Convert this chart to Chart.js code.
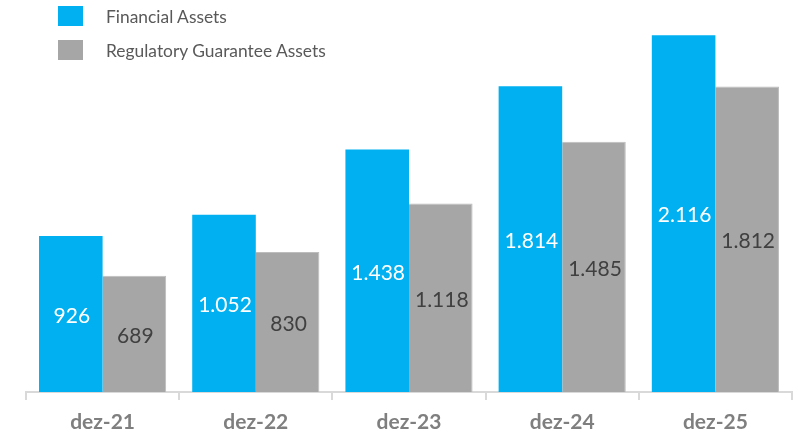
<!DOCTYPE html>
<html>
<head>
<meta charset="utf-8">
<script src="https://cdn.jsdelivr.net/npm/chart.js@4.4.1/dist/chart.umd.min.js"></script>
<style>
    html, body { margin: 0; padding: 0; background: #fff; }
    #wrap { position: relative; width: 806px; height: 439px; }
    #legend { position: absolute; left: 58px; top: 6px; font-family: Lato, "Open Sans", sans-serif; font-size: 17.4px; color: #595959; }
    .item { display: flex; align-items: center; height: 20px; margin-bottom: 14px; }
    .box { width: 25px; height: 20px; margin-right: 23px; }
</style>
</head>
<body>
<div id="wrap">
    <canvas id="chart" width="806" height="439"></canvas>
    <div id="legend"></div>
</div>
<script>
const categories = ['dez-21', 'dez-22', 'dez-23', 'dez-24', 'dez-25'];
const financialAssets = [926, 1052, 1438, 1814, 2116];
const regulatoryAssets = [689, 830, 1118, 1485, 1812];
const seriesNames = ['Financial Assets', 'Regulatory Guarantee Assets'];

function formatNumber(v) {
    return String(v).replace(/\B(?=(\d{3})+(?!\d))/g, '.');
}

// labels in the middle of each bar
const barLabels = {
    id: 'barLabels',
    afterDatasetsDraw(chart) {
        const ctx = chart.ctx;
        ctx.save();
        ctx.font = '21px Lato, "Open Sans", sans-serif';
        ctx.textAlign = 'center';
        ctx.textBaseline = 'middle';
        chart.data.datasets.forEach((ds, i) => {
            const meta = chart.getDatasetMeta(i);
            ctx.fillStyle = ds.labelColor;
            meta.data.forEach((bar, j) => {
                const y = (bar.y + bar.base) / 2;
                ctx.fillText(formatNumber(ds.data[j]), bar.x + 1, y + 2);
            });
        });
        ctx.restore();
    }
};

const chart = new Chart(document.getElementById('chart'), {
    type: 'bar',
    data: {
        labels: categories,
        datasets: [
            {
                label: seriesNames[0],
                data: financialAssets,
                backgroundColor: '#00B0F0',
                labelColor: '#ffffff',
                categoryPercentage: 0.83,
                barPercentage: 1
            },
            {
                label: seriesNames[1],
                data: regulatoryAssets,
                backgroundColor: '#A6A6A6',
                borderColor: '#BDBDBD',
                borderWidth: { top: 1, right: 1, left: 0, bottom: 0 },
                labelColor: '#404040',
                categoryPercentage: 0.83,
                barPercentage: 1
            }
        ]
    },
    options: {
        responsive: false,
        animation: false,
        layout: {
            padding: { left: 26, right: 14, top: 10, bottom: 0 }
        },
        plugins: {
            legend: { display: false },
            tooltip: { enabled: false }
        },
        scales: {
            x: {
                afterFit(scale) {
                    scale.height = 47;
                },
                grid: {
                    offset: true,
                    drawOnChartArea: false,
                    drawTicks: true,
                    tickLength: 8,
                    color: '#D9D9D9',
                    lineWidth: 2
                },
                border: { color: '#D9D9D9', width: 2 },
                ticks: {
                    color: '#7F7F7F',
                    padding: 10,
                    font: { family: 'Lato, "Open Sans", sans-serif', size: 21, weight: 'bold' }
                }
            },
            y: {
                display: false,
                min: 0,
                max: 2266
            }
        }
    },
    plugins: [barLabels]
});

const legendEl = document.getElementById('legend');
chart.data.datasets.forEach(ds => {
    const item = document.createElement('div');
    item.className = 'item';
    const box = document.createElement('span');
    box.className = 'box';
    box.style.background = ds.backgroundColor;
    const text = document.createElement('span');
    text.textContent = ds.label;
    item.appendChild(box);
    item.appendChild(text);
    legendEl.appendChild(item);
});
</script>
</body>
</html>
